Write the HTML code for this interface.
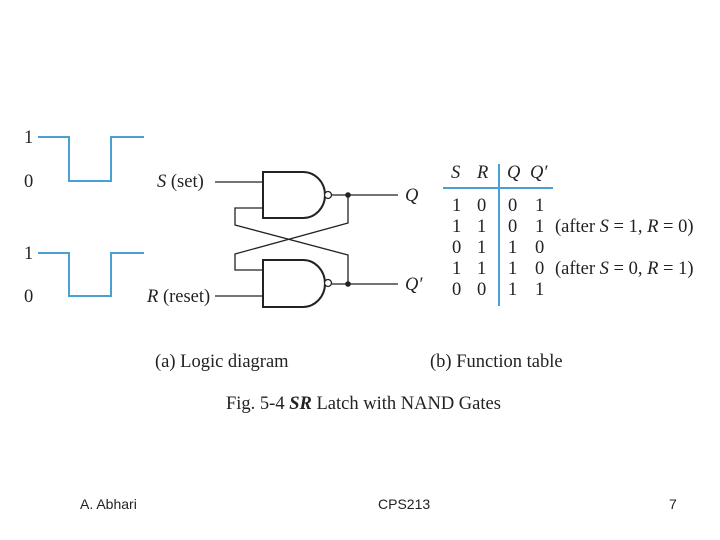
<!DOCTYPE html>
<html><head><style>
body{margin:0;background:#fff;width:720px;height:540px;overflow:hidden}
svg{display:block}
.t{font-family:"Liberation Serif",serif;font-size:18.5px;fill:#222}
.f{font-family:"Liberation Sans",sans-serif;font-size:14px;fill:#222}
</style></head><body>
<svg width="720" height="540" viewBox="0 0 720 540">
<g fill="none" stroke="#4a9fd5" stroke-width="2">
<polyline points="38,137 69,137 69,181 111,181 111,137 144,137"/>
<polyline points="38,253 69,253 69,296 111,296 111,253 144,253"/>
<line x1="443" y1="188" x2="553" y2="188"/>
<line x1="499" y1="164" x2="499" y2="306"/>
</g>
<text class="t" x="24" y="143">1</text><text class="t" x="24" y="187">0</text>
<text class="t" x="24" y="259">1</text><text class="t" x="24" y="302">0</text>
<g fill="none" stroke="#222" stroke-width="1.3">
<path d="M263,172 H303 A22,23 0 0 1 303,218 H263 Z" stroke-width="2"/>
<path d="M263,260 H303 A22,23.5 0 0 1 303,307 H263 Z" stroke-width="2"/>
<circle cx="328" cy="195" r="3.5" fill="#fff"/>
<circle cx="328" cy="283" r="3.5" fill="#fff"/>
<line x1="215" y1="182" x2="263" y2="182"/>
<line x1="215" y1="296" x2="263" y2="296"/>
<line x1="332" y1="195" x2="398" y2="195"/>
<line x1="332" y1="284" x2="398" y2="284"/>
<polyline points="263,208 235,208 235,225 348,255 348,284"/>
<polyline points="348,195 348,223 235,254 235,270 263,270"/>
</g>
<circle cx="348" cy="195" r="2.8" fill="#222"/>
<circle cx="348" cy="284" r="2.8" fill="#222"/>
<text class="t" x="157" y="187"><tspan font-style="italic">S</tspan> (set)</text>
<text class="t" x="147" y="302"><tspan font-style="italic">R</tspan> (reset)</text>
<text class="t" x="405" y="201" font-style="italic">Q</text>
<text class="t" x="405" y="290" font-style="italic">Q′</text>
<g class="t">
<text x="451" y="178" font-style="italic">S</text><text x="477" y="178" font-style="italic">R</text>
<text x="507" y="178" font-style="italic">Q</text><text x="530" y="178" font-style="italic">Q′</text>
<text x="452" y="211">1</text><text x="477" y="211">0</text><text x="508" y="211">0</text><text x="535" y="211">1</text>
<text x="452" y="232">1</text><text x="477" y="232">1</text><text x="508" y="232">0</text><text x="535" y="232">1</text>
<text x="452" y="253">0</text><text x="477" y="253">1</text><text x="508" y="253">1</text><text x="535" y="253">0</text>
<text x="452" y="274">1</text><text x="477" y="274">1</text><text x="508" y="274">1</text><text x="535" y="274">0</text>
<text x="452" y="295">0</text><text x="477" y="295">0</text><text x="508" y="295">1</text><text x="535" y="295">1</text>
<text x="555" y="232">(after <tspan font-style="italic">S</tspan> = 1, <tspan font-style="italic">R</tspan> = 0)</text>
<text x="555" y="274">(after <tspan font-style="italic">S</tspan> = 0, <tspan font-style="italic">R</tspan> = 1)</text>
<text x="155" y="367">(a) Logic diagram</text>
<text x="430" y="367">(b) Function table</text>
<text x="226" y="409">Fig. 5-4 <tspan font-style="italic" font-weight="bold">SR</tspan> Latch with NAND Gates</text>
</g>
<text class="f" x="80" y="509">A. Abhari</text>
<text class="f" x="378" y="509">CPS213</text>
<text class="f" x="669" y="509">7</text>
</svg>
</body></html>
